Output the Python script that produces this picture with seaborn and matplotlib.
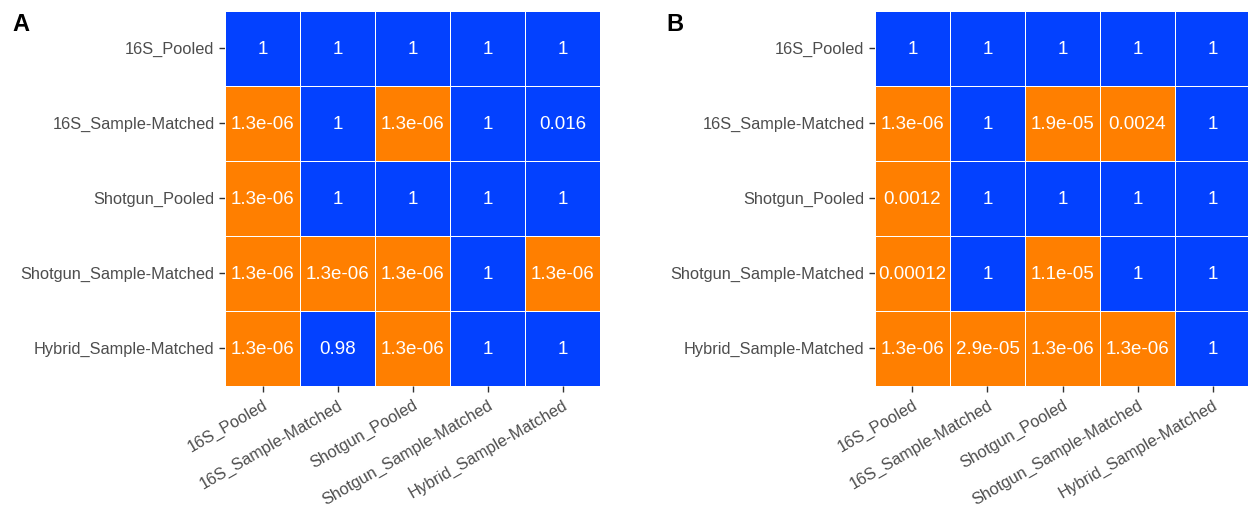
import numpy as np
import pandas as pd
import matplotlib
matplotlib.use("Agg")
import matplotlib.pyplot as plt
from matplotlib.colors import ListedColormap, BoundaryNorm
import seaborn as sns

groups = ["16S_Pooled", "16S_Sample-Matched", "Shotgun_Pooled",
          "Shotgun_Sample-Matched", "Hybrid_Sample-Matched"]

# adjusted p-values, rows/columns in the order of `groups`
pvals_a = [
    [1, 1, 1, 1, 1],
    [1.3e-06, 1, 1.3e-06, 1, 0.016],
    [1.3e-06, 1, 1, 1, 1],
    [1.3e-06, 1.3e-06, 1.3e-06, 1, 1.3e-06],
    [1.3e-06, 0.98, 1.3e-06, 1, 1],
]
pvals_b = [
    [1, 1, 1, 1, 1],
    [1.3e-06, 1, 1.9e-05, 0.0024, 1],
    [0.0012, 1, 1, 1, 1],
    [0.00012, 1, 1.1e-05, 1, 1],
    [1.3e-06, 2.9e-05, 1.3e-06, 1.3e-06, 1],
]
panel_labels = ["A", "B"]

sns.set_theme(style="white")
plt.rcParams["font.family"] = ["Liberation Sans", "DejaVu Sans"]

ORANGE = "#FF7F00"
BLUE = "#0341FF"
cmap = ListedColormap([ORANGE, BLUE])
norm = BoundaryNorm([0, 0.01, 1.01], 2)

W, H = 1248, 510
fig = plt.figure(figsize=(W / 100, H / 100), dpi=100)

axes_px = [(225, 11.5, 375, 375.5), (875, 11.5, 375, 375.5)]
letter_px = [(12, 31), (666, 31)]

for data, (x0, y0, w, h), lab, (lx, ly) in zip(
        [pvals_a, pvals_b], axes_px, panel_labels, letter_px):
    ax = fig.add_axes([x0 / W, 1 - (y0 + h) / H, w / W, h / H])
    df = pd.DataFrame(data, index=groups, columns=groups)
    sns.heatmap(df, ax=ax, cmap=cmap, norm=norm, cbar=False,
                annot=True, fmt=".2g",
                annot_kws={"color": "white", "fontsize": 13.5},
                linewidths=0.6, linecolor="white", square=False)
    ax.tick_params(axis="both", which="both", length=4.5, width=1,
                   color="#333333", labelcolor="#4D4D4D",
                   labelsize=11.8, pad=3, bottom=True, left=True)
    ax.set_yticklabels(groups, rotation=0)
    ax.set_xticklabels(groups, rotation=30, ha="right", va="top",
                       rotation_mode="anchor")
    ax.set_xlabel("")
    ax.set_ylabel("")
    for s in ax.spines.values():
        s.set_visible(False)
    fig.text(lx / W, 1 - ly / H, lab, fontsize=17, fontweight="bold",
             color="black", ha="left", va="baseline")

fig.savefig("out.png", dpi=100, facecolor="white")
